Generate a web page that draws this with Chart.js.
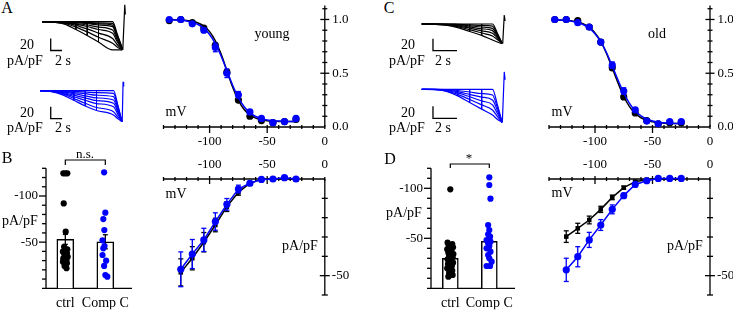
<!DOCTYPE html>
<html><head><meta charset="utf-8">
<script src="https://cdn.jsdelivr.net/npm/chart.js@4.4.1/dist/chart.umd.min.js"></script>
<style>
html,body{margin:0;padding:0;background:#fff;}
body{width:734px;height:310px;position:relative;overflow:hidden;font-family:"Liberation Serif","Times New Roman",serif;color:#000;}
canvas{position:absolute;}
.t{position:absolute;line-height:1;white-space:nowrap;transform:translate(-50%,-50%);font-size:14px;z-index:5;}
.L{font-size:16px;}
</style></head><body>
<div class="t L" style="left:7px;top:8px">A</div>
<div class="t L" style="left:7px;top:158px">B</div>
<div class="t L" style="left:389px;top:8px">C</div>
<div class="t L" style="left:390px;top:159px">D</div>

<div class="t" style="left:27px;top:45px">20</div>
<div class="t" style="left:25px;top:61px">pA/pF</div>
<div class="t" style="left:63px;top:61px">2 s</div>
<div class="t" style="left:27px;top:113px">20</div>
<div class="t" style="left:25px;top:128px">pA/pF</div>
<div class="t" style="left:63px;top:128px">2 s</div>

<div class="t" style="left:408px;top:45px">20</div>
<div class="t" style="left:407px;top:61px">pA/pF</div>
<div class="t" style="left:443px;top:61px">2 s</div>
<div class="t" style="left:408px;top:113px">20</div>
<div class="t" style="left:407px;top:128px">pA/pF</div>
<div class="t" style="left:443px;top:128px">2 s</div>

<div class="t" style="left:272px;top:34px">young</div>
<div class="t" style="left:657px;top:34px">old</div>
<div class="t" style="left:176px;top:112px">mV</div>
<div class="t" style="left:562px;top:112px">mV</div>
<div class="t" style="left:176px;top:194px">mV</div>
<div class="t" style="left:562px;top:193px">mV</div>
<div class="t" style="left:300px;top:246px">pA/pF</div>
<div class="t" style="left:685px;top:246px">pA/pF</div>
<div class="t" style="left:20px;top:221px">pA/pF</div>
<div class="t" style="left:404px;top:213px">pA/pF</div>
<div class="t" style="left:85px;top:153px;font-size:13px">n.s.</div>
<div class="t" style="left:469px;top:157px;font-size:13px">*</div>

<script>
const FONT = '"Liberation Serif","Times New Roman",serif';
const BLACK = '#000000', BLUE = '#0000ff';
Chart.defaults.font.family = FONT;
Chart.defaults.color = '#000';

// ================= DATA =================
// activation (normalised conductance) vs voltage
const actV = [-135,-125,-115,-105,-95,-85,-75,-65,-55,-45,-35,-25];
const youngCtrlG    = [0.99,1.00,0.97,0.92,0.76,0.51,0.25,0.10,0.06,0.04,0.05,0.07];
const youngCtrlGErr = [0,0,0,0.01,0.02,0.02,0.02,0.01,0,0,0,0];
const youngCompG    = [1.00,1.00,0.96,0.90,0.74,0.50,0.30,0.14,0.08,0.04,0.05,0.08];
const youngCompGErr = [0,0,0.01,0.02,0.04,0.04,0.03,0.02,0.01,0,0,0];
const oldCtrlG      = [1.00,1.00,0.99,0.93,0.79,0.55,0.28,0.13,0.06,0.03,0.04,0.04];
const oldCtrlGErr   = [0,0,0,0.01,0.02,0.02,0.02,0.01,0,0,0,0];
const oldCompG      = [1.00,1.00,0.97,0.93,0.79,0.575,0.335,0.16,0.055,0.03,0.05,0.05];
const oldCompGErr   = [0,0,0.01,0.01,0.02,0.03,0.03,0.02,0.01,0,0,0];
// Boltzmann fit curves
const fitV = [-135,-130,-125,-120,-115,-110,-105,-100,-95,-90,-85,-80,-75,-70,-65,-60,-55,-50,-45,-40,-35,-30,-25];
const youngCtrlFit = [0.999,0.998,0.995,0.991,0.983,0.967,0.938,0.887,0.802,0.678,0.525,0.372,0.248,0.163,0.112,0.083,0.067,0.059,0.055,0.052,0.051,0.050,0.050];
const youngCompFit = [0.997,0.995,0.992,0.985,0.973,0.953,0.917,0.861,0.776,0.661,0.525,0.389,0.274,0.189,0.133,0.098,0.077,0.065,0.059,0.055,0.053,0.052,0.051];
const oldCtrlFit   = [0.998,0.996,0.992,0.987,0.976,0.958,0.926,0.875,0.796,0.685,0.549,0.409,0.284,0.190,0.126,0.086,0.062,0.048,0.040,0.036,0.033,0.032,0.031];
const oldCompFit   = [0.997,0.994,0.990,0.983,0.971,0.951,0.919,0.868,0.793,0.691,0.567,0.437,0.316,0.220,0.150,0.103,0.074,0.056,0.045,0.039,0.035,0.033,0.032];

// current density vs voltage
const ivV = [-125,-115,-105,-95,-85,-75,-65,-55,-45,-35,-25];
const youngCtrlI    = [-48.3,-41,-32.7,-23.8,-14.3,-6.9,-2.2,-0.2,0,0.3,0];
const youngCtrlIErr = [7,6,5,3.5,2.5,1.5,0.8,0.3,0.2,0.2,0.2];
const youngCompI    = [-46.7,-38.8,-31.5,-22,-13.1,-5.2,-2.2,-0.2,0,0.7,0];
const youngCompIErr = [9,7.5,6,4.5,3,2,1,0.4,0.3,0.3,0.3];
const oldCtrlI      = [-29.8,-25.5,-21.2,-15.7,-9.5,-4.5,-1.4,-0.3,0,0,0];
const oldCtrlIErr   = [3,2.6,2,1.6,1.2,0.8,0.5,0.2,0.1,0.1,0.1];
const oldCompI      = [-47,-40.2,-31.5,-23.8,-15.7,-8.6,-2.8,-0.9,0.3,0.3,0.3];
const oldCompIErr   = [6,5.2,3.9,2.8,2.3,1.2,0.6,0.3,0.2,0.2,0.2];

// bar charts (pA/pF)
const groups = ['ctrl','Comp C'];
const youngMean = [-53,-50.4], youngSem = [5.4,7.6];
const oldMean   = [-30,-47],   oldSem   = [3.3,6.7];
const youngCtrlPts = [-124.6,-124.6,-124.6,-92,-61.3,-45,-42.3,-39.7,-37.9,-36.1,-34.2,-32.5,-30.7,-28.8,-27.1,-24.2,-21.7];
const youngCtrlJit = [-0.05,0,0.05,-0.04,0.01,-0.03,0.05,-0.06,0.04,-0.02,0.06,-0.05,0.03,-0.06,0.04,-0.02,0.03];
const youngCompPts = [-125.6,-81.9,-75,-63.1,-52,-45.8,-43.3,-36.1,-29.9,-24.2,-14.4,-12.6];
const youngCompJit = [-0.03,0,-0.05,-0.025,-0.07,-0.02,-0.05,-0.07,0.02,-0.03,0,0.05];
const oldCtrlPts = [-99,-45.6,-44.3,-42.3,-41,-39,-37.6,-35.6,-34.3,-32.3,-31,-29,-27.6,-25.6,-24.3,-22.3,-20,-17.6,-15.6,-13.3,-11.6];
const oldCtrlJit = [0,-0.07,0.05,-0.04,0.07,-0.08,0.03,-0.05,0.08,-0.03,0.06,-0.07,0.02,0.07,-0.06,0.04,-0.08,0.05,-0.03,0.06,-0.05];
const oldCompPts = [-111,-103.3,-89.6,-63.3,-58.3,-54,-51.6,-48.3,-46.6,-45,-42.3,-40,-36.6,-33.3,-30,-26.6,-22.3,-22.3];
const oldCompJit = [0,0,0.03,-0.03,0,-0.03,0.02,-0.07,0.03,-0.03,0,-0.07,0.03,-0.03,0,0.06,-0.07,0.02];
const youngYTop = -130, oldYTop = -120;
const youngBracket = {top:-139, leg:-133.6};
const oldBracket   = {top:-124.3, leg:-120.3};

// current traces (time in s, current in pA/pF)
const trTimeYoungCtrl = [0,2,4,6,8,10,12.5,13.3,14.2];
const trYoungCtrl = [
  [0,0,0,0,0,0,0,-20,-44],
  [0,0,0,-0.5,-1,-1.8,-2.8,-22,-45],
  [0,0,-0.3,-1,-2,-3.5,-5.6,-24,-45],
  [0,0,-0.5,-1.5,-3,-5.5,-8.3,-26,-46],
  [0,0,-1,-3,-5.5,-9,-14,-30,-46],
  [0,-0.5,-1.5,-4,-8,-13,-19.4,-33,-46],
  [0,-0.5,-2,-6,-12,-19,-28,-38,-47],
  [0,-1,-3,-9,-17,-26,-36,-42,-47],
  [0,-1,-4,-13,-23,-34,-47,-47,-47]
];
const trTimeYoungComp = [0,2,4,6,8,10,13,13.8,14.5];
const trYoungComp = [
  [0,0,0,0,0,0,0,-25,-51.5],
  [0,0,-0.5,-1.2,-2.2,-3.3,-4.4,-27,-51.5],
  [0,0,-1,-3,-5,-7.5,-10,-30,-51.5],
  [0,-0.5,-2,-5,-8.5,-12,-15.5,-33,-51.5],
  [0,-0.5,-3,-7.5,-12,-16.5,-21,-36,-51.5],
  [0,-1,-4,-10,-16,-21.5,-26.7,-40,-51.5],
  [0,-1,-5,-13,-21,-28,-35,-44,-51.5],
  [0,-1.5,-7,-16,-25.5,-33,-40.5,-47,-51.5]
];
const trTimeOld = [0,1,2,3,4,5,5.9,6.3,6.7];
const trOldCtrl = [
  [0,0,0,0,0,0,0,-15,-32],
  [0,0,0,-0.5,-1.3,-2.4,-3.5,-17,-32],
  [0,0,-0.4,-1.2,-3,-5,-7.2,-19,-32],
  [0,0,-0.7,-2,-5,-8,-11,-21,-32],
  [0,-0.2,-1,-3,-7,-11.5,-15.5,-23,-32],
  [0,-0.3,-1.5,-4.5,-9.5,-15,-20,-26,-32],
  [0,-0.5,-2,-6,-12.5,-19,-26.7,-30,-33]
];
const trOldComp = [
  [0,0,0,0,0,0,0,-25,-55],
  [0,0,-0.5,-2,-4.5,-7,-9.5,-30,-55],
  [0,0,-1,-4,-8.5,-13,-17.8,-35,-55],
  [0,-0.2,-2,-6,-12.5,-19.5,-26,-40,-55],
  [0,-0.3,-2.5,-8.5,-17,-26,-34.5,-45,-55],
  [0,-0.5,-3,-11,-22,-33,-43,-50,-55]
];
const spikeYoungCtrl = {t:[14.3,14.65,14.75], v:[-47,28,12]};
const spikeYoungComp = {t:[14.55,14.7,14.8], v:[-51.5,15,7]};
const spikeOldCtrl   = {t:[6.75,6.88,6.95], v:[-33,15,5]};
const spikeOldComp   = {t:[6.72,6.88,6.95], v:[-55,29,16]};
// scale bars: 2 s x 20 pA/pF
const barTime = 2, barAmp = 20;
const sbYoungCtrl = {t:1.54, top:-28};
const sbYoungComp = {t:1.9,  top:-26.7};
const sbOldCtrl   = {t:0.94, top:-24.5};
const sbOldComp   = {t:0.94, top:-28.3};

// ================= HELPERS =================
const pts = (xs, ys) => xs.map((x,i) => ({x, y: ys[i]}));
function seg(ctx,x0,y0,x1,y1){ctx.beginPath();ctx.moveTo(x0,y0);ctx.lineTo(x1,y1);ctx.stroke();}

function axisArt(lines){
  return {id:'axisArt', beforeDatasetsDraw(chart){
    const ctx = chart.ctx, xs = chart.scales.x, ys = chart.scales.y;
    ctx.save(); ctx.strokeStyle = '#000'; ctx.lineWidth = 1.3; ctx.lineCap = 'butt';
    for (const L of lines){
      const isX = L.axis === 'x';
      const S = isX ? xs : ys, O = isX ? ys : xs;
      const p = O.getPixelForValue(L.at);
      let a = S.getPixelForValue(L.lo), b = S.getPixelForValue(L.hi);
      if (a > b) { const t = a; a = b; b = t; }
      a -= (L.ext0||0); b += (L.ext1||0);
      if (isX) seg(ctx,a,p,b,p); else seg(ctx,p,a,p,b);
      if (L.step){
        const n = Math.round((L.t1 - L.t0)/L.step);
        for (let i=0;i<=n;i++){
          const v = Math.round((L.t0 + i*L.step)*1e6)/1e6;
          const major = (L.major||[]).some(m => Math.abs(m-v) < 1e-6);
          const [u,w] = major ? L.maj : L.min;
          const q = S.getPixelForValue(v);
          if (isX) seg(ctx,q,p+u,q,p+w); else seg(ctx,p+u,q,p+w,q);
        }
      }
    }
    ctx.restore();
  }};
}

const errBars = {id:'errBars', afterDatasetDraw(chart, args){
  const ds = chart.data.datasets[args.index];
  if (!ds.errors) return;
  const ctx = chart.ctx, ys = chart.scales.y, meta = args.meta;
  ctx.save(); ctx.strokeStyle = ds.errColor || ds.borderColor || '#000'; ctx.lineWidth = 1.3;
  const cap = ds.capW || 2.5;
  meta.data.forEach((el,i) => {
    const e = ds.errors[i]; if (!e) return;
    const v = ds.data[i].y;
    const y0 = ys.getPixelForValue(v - e), y1 = ys.getPixelForValue(v + e);
    seg(ctx, el.x, y0, el.x, y1);
    seg(ctx, el.x-cap, y0, el.x+cap, y0);
    seg(ctx, el.x-cap, y1, el.x+cap, y1);
  });
  ctx.restore();
}};
Chart.register(errBars);

// cv = canvas rect [x,y,w,h]; area = chart area [left,right,top,bottom] (page px);
// boxes = room taken by labelled axes on each side
function mk(cv, area, boxes, config){
  const c = document.createElement('canvas');
  c.width = cv[2]; c.height = cv[3];
  Object.assign(c.style, {left:cv[0]+'px', top:cv[1]+'px', width:cv[2]+'px', height:cv[3]+'px'});
  document.body.appendChild(c);
  const b = Object.assign({left:0,right:0,top:0,bottom:0}, boxes||{});
  const o = config.options = config.options || {};
  o.responsive = false; o.animation = false; o.devicePixelRatio = 1;
  o.layout = {padding:{left:area[0]-cv[0]-b.left, right:cv[0]+cv[2]-area[1]-b.right,
                       top:area[2]-cv[1]-b.top, bottom:cv[1]+cv[3]-area[3]-b.bottom}};
  o.plugins = Object.assign({legend:{display:false}, tooltip:{enabled:false}}, o.plugins||{});
  return new Chart(c, config);
}
function hidden(min,max){
  return {type:'linear', min, max, display:false, offset:false};
}
function labelled(min,max,position,vals,padding,box,fmt,size){
  return {type:'linear', min, max, position, display:true, offset:false,
    grid:{display:false, drawTicks:false}, border:{display:false},
    ticks:{padding, color:'#000', font:{size:size||13, family:FONT}, maxRotation:0, minRotation:0, autoSkip:false,
      callback: fmt || (v => String(v))},
    afterBuildTicks: s => { s.ticks = vals.map(v => ({value:v})); },
    afterFit: s => { if (s.isHorizontal()) s.height = box; else s.width = box;
      s.paddingTop = s.paddingBottom = s.paddingLeft = s.paddingRight = 0; }
  };
}
function dots(data, color, r, order, extra){
  return Object.assign({type:'scatter', data, pointRadius:r, pointBackgroundColor:color, pointBorderWidth:0,
    borderColor:color, order, clip:false}, extra||{});
}
function curve(data, color, w, order, extra){
  return Object.assign({type:'scatter', data, showLine:true, borderColor:color, borderWidth:w, pointRadius:0,
    cubicInterpolationMode:'monotone', order, clip:false}, extra||{});
}

// ================= TRACES =================
function traceChart(cv, area, xr, yr, time, family, spike, sb, color){
  const ds = family.map(v => curve(pts(time, v), color, 1.2, 5));
  // vertical "mesh" links between the traces at the sampled times during the step
  const mesh = [];
  for (let k = 1; k < time.length - 3; k++){
    const col = family.map(v => v[k]);
    mesh.push({x:time[k], y:Math.max(...col)}, {x:time[k], y:Math.min(...col)}, {x:NaN, y:NaN});
  }
  ds.push(curve(mesh, color, 1, 6, {cubicInterpolationMode:'default', tension:0, spanGaps:false}));
  ds.push(curve(pts(spike.t, spike.v), color, 1.2, 4, {cubicInterpolationMode:'default', tension:0}));
  ds.push(curve([{x:sb.t,y:sb.top},{x:sb.t,y:sb.top-barAmp},{x:sb.t+barTime,y:sb.top-barAmp}], '#000', 1.3, 0,
    {cubicInterpolationMode:'default', tension:0}));
  return mk(cv, area, null, {type:'scatter', data:{datasets:ds},
    options:{scales:{x:hidden(xr[0],xr[1]), y:hidden(yr[0],yr[1])}}});
}
traceChart([30,0,105,62],  [39.74,126.75,0.1,55.9],  [-0.4,15], [-57,36], trTimeYoungCtrl, trYoungCtrl, spikeYoungCtrl, sbYoungCtrl, BLACK);
traceChart([30,66,105,64], [38.3,125.9,72.7,124.9],  [-0.3,15.2], [-57,30], trTimeYoungComp, trYoungComp, spikeYoungComp, sbYoungComp, BLUE);
traceChart([410,0,105,62], [419.3,508.1,9,54],       [-0.2,7.2], [-50,25], trTimeOld, trOldCtrl, spikeOldCtrl, sbOldCtrl, BLACK);
traceChart([410,66,105,64],[419.3,508.1,70.1,125.3], [-0.2,7.2], [-60,32], trTimeOld, trOldComp, spikeOldComp, sbOldComp, BLUE);

// ================= ACTIVATION CURVES =================
function actChart(cv, area, rbox, ctrlG, ctrlErr, compG, compErr, ctrlFit, compFit){
  return mk(cv, area, {bottom:22, right:rbox}, {type:'scatter', data:{datasets:[
      dots(pts(actV, compG), BLUE, 3.6, 0, {errors:compErr}),
      curve(pts(fitV, compFit), BLUE, 1.5, 1),
      dots(pts(actV, ctrlG), BLACK, 3.6, 2, {errors:ctrlErr}),
      curve(pts(fitV, ctrlFit), BLACK, 1.5, 3)
    ]},
    options:{scales:{
      x: labelled(-140, 0, 'bottom', [-100,-50,0], 6.5, 22),
      y: labelled(0, 1.13, 'right', [0,0.5,1.0], 7.5, rbox, v => v.toFixed(1))
    }},
    plugins:[axisArt([
      {axis:'x', at:0, lo:-140, hi:0, t0:-140, t1:0, step:10, major:[-100,-50], min:[-2,2], maj:[-2,6]},
      {axis:'y', at:0, lo:0, hi:1.13, t0:0.1, t1:1.1, step:0.1, major:[0.5,1.0], min:[-2.5,2.5], maj:[-4.5,4.5]}
    ])]
  });
}
actChart([140,0,225,150], [163.5,324.8,5.5,127], 35, youngCtrlG, youngCtrlGErr, youngCompG, youngCompGErr, youngCtrlFit, youngCompFit);
actChart([525,0,209,150], [549,710,5.5,127], 23, oldCtrlG, oldCtrlGErr, oldCompG, oldCompGErr, oldCtrlFit, oldCompFit);

// ================= I-V CURVES =================
function ivChart(cv, area, rbox, ctrlI, ctrlErr, compI, compErr){
  return mk(cv, area, {top:27, right:rbox}, {type:'scatter', data:{datasets:[
      curve(pts(ivV, compI), BLUE, 1.5, 0, {errors:compErr, pointRadius:3.6, pointBackgroundColor:BLUE, pointBorderWidth:0, cubicInterpolationMode:'default', tension:0}),
      curve(pts(ivV, ctrlI), BLACK, 1.5, 1, {errors:ctrlErr, pointRadius:3.2, pointStyle:'rect', pointBackgroundColor:BLACK, pointBorderWidth:0, cubicInterpolationMode:'default', tension:0})
    ]},
    options:{scales:{
      x: labelled(-140, 0, 'top', [-100,-50,0], 6.5, 27),
      y: labelled(-60, 0, 'right', [-50], 7, rbox)
    }},
    plugins:[axisArt([
      {axis:'x', at:0, lo:-140, hi:0, t0:-140, t1:0, step:10, major:[-100,-50], min:[-2,2], maj:[-3,5]},
      {axis:'y', at:0, lo:-60, hi:0, t0:-60, t1:-10, step:10, major:[-50], min:[-3,3], maj:[-5,5]}
    ])]
  });
}
ivChart([140,150,225,160], [163.5,324.8,179,295], 35, youngCtrlI, youngCtrlIErr, youngCompI, youngCompIErr);
ivChart([525,150,209,160], [549,710,179,295], 23, oldCtrlI, oldCtrlIErr, oldCompI, oldCompIErr);

// ================= BAR CHARTS =================
function barChart(cv, area, xr, yTop, mean, sem, ctrlPts, ctrlJit, compPts, compJit, bracket, thick){
  return mk(cv, area, {left:44, bottom:21}, {type:'bar', data:{datasets:[
      dots(ctrlPts.map((v,i)=>({x:ctrlJit[i], y:v})), BLACK, 3.1, 0),
      dots(compPts.map((v,i)=>({x:1+compJit[i], y:v})), BLUE, 3.1, 0),
      {type:'bar', data:mean.map((v,i)=>({x:i, y:v})), errors:sem, backgroundColor:'#ffffff', borderColor:'#000',
        borderWidth:1.5, barThickness:thick, order:2, clip:false},
      {type:'line', data:[{x:0,y:bracket.leg},{x:0,y:bracket.top},{x:1,y:bracket.top},{x:1,y:bracket.leg}],
        borderColor:'#000', borderWidth:1.2, pointRadius:0, clip:false, order:3, tension:0}
    ]},
    options:{scales:{
      x: labelled(xr[0], xr[1], 'bottom', [0,1], 7, 21, v => groups[v], 14),
      y: Object.assign(labelled(yTop, 0, 'left', [-100,-50], 8, 44), {reverse:true})
    }},
    plugins:[axisArt([
      {axis:'x', at:0, lo:xr[0], hi:xr[1], ext0:4},
      {axis:'y', at:xr[0], lo:yTop, hi:0, t0:yTop, t1:-10, step:10, major:[-100,-50], min:[-4,0], maj:[-7,0]}
    ])]
  });
}
barChart([0,140,140,170], [46,132,168.3,288.3], [-0.483,1.667], youngYTop, youngMean, youngSem, youngCtrlPts, youngCtrlJit, youngCompPts, youngCompJit, youngBracket, 17);
barChart([370,140,160,170], [431,515,168.3,288.3], [-0.495,1.659], oldYTop, oldMean, oldSem, oldCtrlPts, oldCtrlJit, oldCompPts, oldCompJit, oldBracket, 16);
</script>
</body></html>
